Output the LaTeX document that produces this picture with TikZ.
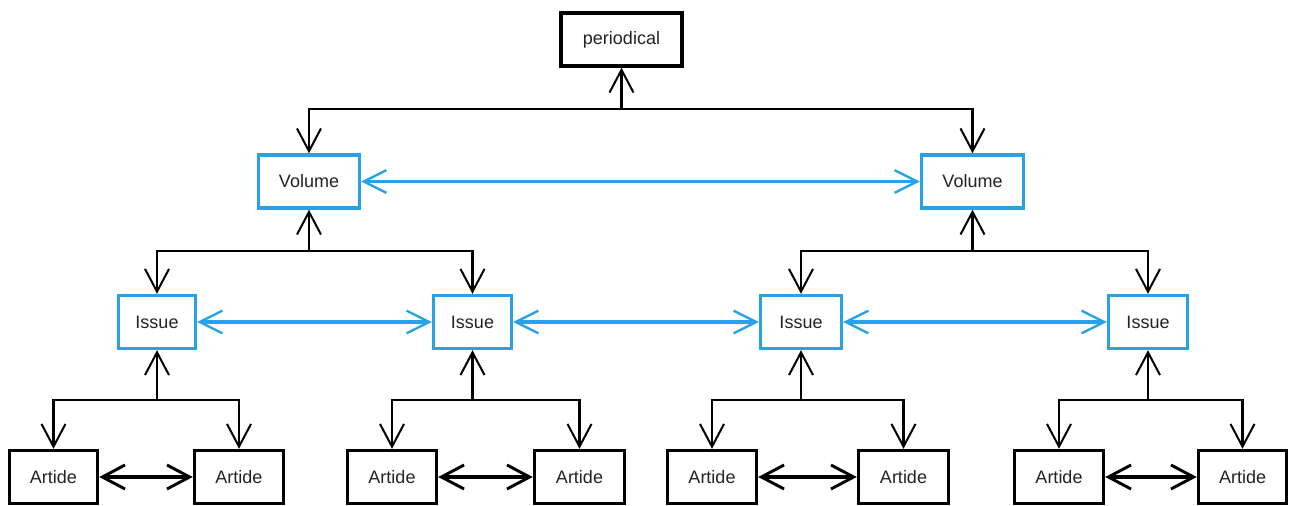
\documentclass[tikz,border=0pt]{standalone}
\usepackage{fontspec}
\setmainfont{Liberation Sans}
\usetikzlibrary{arrows.meta}
\definecolor{boxblue}{RGB}{40,162,230}
\definecolor{txt}{RGB}{35,35,35}
\begin{document}
\begin{tikzpicture}[x=0.75pt,y=-0.75pt,
  box/.style={draw=black,line width=2.6pt,fill=white,minimum height=53*0.75pt,inner sep=0pt,
    font=\fontsize{13.5}{16}\selectfont,text=txt},
  bbox/.style={box,draw=boxblue},
  tip/.style={-{Straight Barb[length=17pt,width=18pt,line width=1.5pt]}},
  link/.style={line width=2.1pt,black,tip},
  blink/.style={line width=2.4pt,boxblue,{Straight Barb[length=17pt,width=17pt,line width=1.7pt]}-{Straight Barb[length=17pt,width=17pt,line width=1.7pt]}},
  alink/.style={line width=2.3pt,black,{Straight Barb[length=17pt,width=18pt,line width=2.2pt]}-{Straight Barb[length=17pt,width=18pt,line width=2.2pt]}}
]
\useasboundingbox (0,0) rectangle (1293,506);
% nodes
\node[box,minimum width=121*0.75pt] (per) at (621.5,39.5) {periodical};
\node[bbox,minimum width=101*0.75pt] (v1) at (309,181.5) {Volume};
\node[bbox,minimum width=102*0.75pt] (v2) at (972.5,181.5) {Volume};
\node[bbox,minimum width=77*0.75pt] (i1) at (157,322) {Issue};
\node[bbox,minimum width=78*0.75pt] (i2) at (472.5,322) {Issue};
\node[bbox,minimum width=81*0.75pt] (i3) at (801,322) {Issue};
\node[bbox,minimum width=79*0.75pt] (i4) at (1148,322) {Issue};
\node[box,minimum width=88*0.75pt] (a1) at (53.5,477) {Artide};
\node[box,minimum width=89*0.75pt] (a2) at (239,477) {Artide};
\node[box,minimum width=89*0.75pt] (a3) at (392,477) {Artide};
\node[box,minimum width=90*0.75pt] (a4) at (579.5,477) {Artide};
\node[box,minimum width=89*0.75pt] (a5) at (712,477) {Artide};
\node[box,minimum width=90*0.75pt] (a6) at (903.5,477) {Artide};
\node[box,minimum width=89*0.75pt] (a7) at (1059,477) {Artide};
\node[box,minimum width=88*0.75pt] (a8) at (1242.5,477) {Artide};
% junctions
\coordinate (jp) at (621.5,109);
\coordinate (jv1) at (309,251);
\coordinate (jv2) at (972.5,251);
\coordinate (ji1) at (157,400);
\coordinate (ji2) at (472.5,400);
\coordinate (ji3) at (801,400);
\coordinate (ji4) at (1148,400);
% tree connectors
\draw[link] (jp) -- (per.south);
\draw[link] (jp) -| (v1.north);
\draw[link] (jp) -| (v2.north);
\draw[link] (jv1) -- (v1.south);
\draw[link] (jv1) -| (i1.north);
\draw[link] (jv1) -| (i2.north);
\draw[link] (jv2) -- (v2.south);
\draw[link] (jv2) -| (i3.north);
\draw[link] (jv2) -| (i4.north);
\draw[link] (ji1) -- (i1.south);
\draw[link] (ji1) -| (a1.north);
\draw[link] (ji1) -| (a2.north);
\draw[link] (ji2) -- (i2.south);
\draw[link] (ji2) -| (a3.north);
\draw[link] (ji2) -| (a4.north);
\draw[link] (ji3) -- (i3.south);
\draw[link] (ji3) -| (a5.north);
\draw[link] (ji3) -| (a6.north);
\draw[link] (ji4) -- (i4.south);
\draw[link] (ji4) -| (a7.north);
\draw[link] (ji4) -| (a8.north);
% sibling links
\draw[blink] (v1.east) -- (v2.west);
\draw[blink] (i1.east) -- (i2.west);
\draw[blink] (i2.east) -- (i3.west);
\draw[blink] (i3.east) -- (i4.west);
\draw[alink] (a1.east) -- (a2.west);
\draw[alink] (a3.east) -- (a4.west);
\draw[alink] (a5.east) -- (a6.west);
\draw[alink] (a7.east) -- (a8.west);
\end{tikzpicture}
\end{document}
